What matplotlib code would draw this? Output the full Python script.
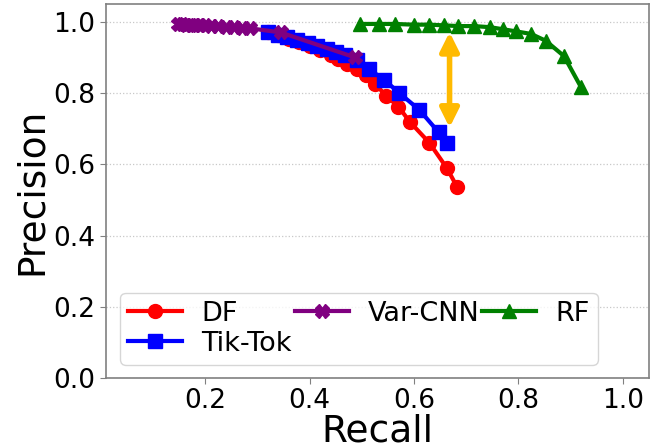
import matplotlib.pyplot as plt
import numpy as np

# precision / recall curves
df_recall = [0.320, 0.340, 0.360, 0.380, 0.400, 0.420, 0.440, 0.455, 0.472, 0.490,
             0.508, 0.526, 0.546, 0.570, 0.592, 0.629, 0.663, 0.683]
df_prec = [0.970, 0.962, 0.953, 0.944, 0.932, 0.920, 0.906, 0.895, 0.882, 0.868,
           0.851, 0.825, 0.793, 0.762, 0.719, 0.661, 0.589, 0.535]

tt_recall = [0.320, 0.340, 0.357, 0.376, 0.396, 0.415, 0.434, 0.450, 0.468, 0.490,
             0.513, 0.543, 0.571, 0.610, 0.647, 0.663]
tt_prec = [0.970, 0.963, 0.956, 0.949, 0.941, 0.932, 0.923, 0.915, 0.906, 0.893,
           0.868, 0.837, 0.801, 0.753, 0.690, 0.659]

var_recall = [0.147, 0.155, 0.163, 0.172, 0.180, 0.190, 0.200, 0.212, 0.225, 0.240,
              0.255, 0.270, 0.285, 0.345, 0.487]
var_prec = [0.993, 0.993, 0.992, 0.992, 0.991, 0.991, 0.990, 0.989, 0.988, 0.986,
            0.985, 0.984, 0.982, 0.970, 0.900]

rf_recall = [0.496, 0.532, 0.563, 0.599, 0.629, 0.658, 0.685, 0.714, 0.745, 0.771,
             0.796, 0.824, 0.852, 0.887, 0.920]
rf_prec = [0.994, 0.994, 0.994, 0.992, 0.992, 0.990, 0.988, 0.988, 0.985, 0.979,
           0.973, 0.966, 0.947, 0.904, 0.816]

gap_x = 0.668
gap_top = 0.971
gap_bottom = 0.703

fig = plt.figure(figsize=(6.54, 4.45), dpi=100)
ax = fig.add_axes([106/654, 67/445, 543/654, 374/445])

ax.plot(df_recall, df_prec, '-o', color='red', lw=3, ms=10, label='DF')
ax.plot(tt_recall, tt_prec, '-s', color='blue', lw=3, ms=10, label='Tik-Tok')
ax.plot(var_recall, var_prec, '-X', color='purple', lw=3, ms=10, label='Var-CNN')
ax.plot(rf_recall, rf_prec, '-^', color='green', lw=3, ms=10, label='RF')

ax.annotate('', xy=(gap_x, gap_bottom), xytext=(gap_x, gap_top),
            arrowprops=dict(arrowstyle='<|-|>', color='#FFBA00', lw=4,
                            mutation_scale=28, shrinkA=0, shrinkB=0))

ax.set_xlim(0.01, 1.05)
ax.set_ylim(0, 1.05)
ax.set_xticks([0.2, 0.4, 0.6, 0.8, 1.0])
ax.set_yticks([0.0, 0.2, 0.4, 0.6, 0.8, 1.0])
ax.tick_params(labelsize=19, color='gray', length=4)
ax.yaxis.grid(True, linestyle=':', color='#c8c8c8', lw=0.9)
for s in ax.spines.values():
    s.set_color('gray')
    s.set_linewidth(1.2)

ax.set_xlabel('Recall', fontsize=27, labelpad=-1)
ax.set_ylabel('Precision', fontsize=27, labelpad=3)
ax.legend(loc='lower left', bbox_to_anchor=(0.026, 0.035), ncol=3, fontsize=19.5,
          columnspacing=0.1, handletextpad=0.7, labelspacing=0.15,
          borderpad=0.3, handlelength=2.0, borderaxespad=0)

fig.savefig('out.png', dpi=100)
